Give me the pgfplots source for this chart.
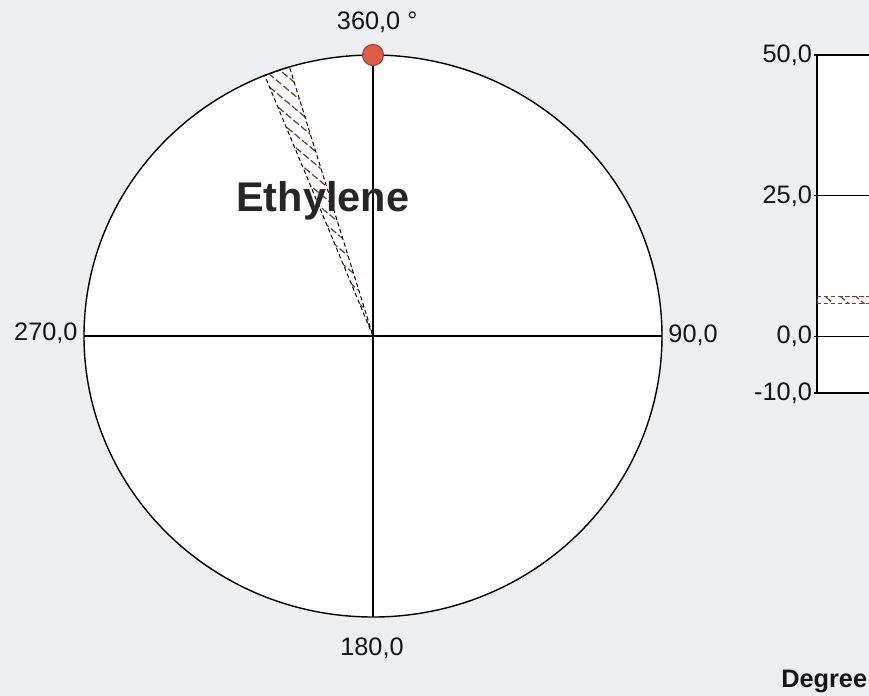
\documentclass[border=0pt]{standalone}
\usepackage{pgfplots}
\pgfplotsset{compat=1.18}
\usepackage{pgfplotstable}
\usepgfplotslibrary{polar}
\usetikzlibrary{patterns.meta}
\usepackage{fontspec}
\setmainfont{Liberation Sans}
\definecolor{bg}{RGB}{238,239,241}
\definecolor{hatch}{RGB}{125,60,45}
\definecolor{mk}{RGB}{222,92,74}
\newcommand\lbl{\fontsize{18}{21}\selectfont}

% wedge: compass bearing (deg) and relative radius
\pgfplotstableread{
deg r
0 0
338.0 1
343.2 1
0 0
}\wedgedata
\pgfplotstableread{
deg r
0 1
}\markerdata

\begin{document}
\begin{tikzpicture}
\useasboundingbox (0,0) rectangle (217.25mm,-174mm);
\fill[bg] (0,0) rectangle (217.25mm,-174mm);
\begin{polaraxis}[
  at={(93.25mm,-84mm)}, anchor=center,
  scale only axis, width=144.5mm, height=140.5mm,
  xmin=0, xmax=360, ymin=0, ymax=1,
  xtick={0,90,180,270}, xticklabels={,,,},
  ytick=\empty,
  xmajorgrids, major grid style={black, line width=0.9pt},
  major tick length=0pt,
  axis line style={black, line width=1pt},
  axis background/.style={fill=white},
  clip=false,
]
\addplot[draw=black, densely dashed, line width=0.7pt,
  pattern={Lines[angle=-40,distance=7pt,line width=0.9pt]}, pattern color=hatch]
  table[x expr={mod(450-\thisrow{deg},360)}, y=r] \wedgedata;
\addplot[only marks, mark=*, mark size=7.5pt,
  mark options={fill=mk, draw=mk!65!black, line width=0.7pt}]
  table[x expr={mod(450-\thisrow{deg},360)}, y=r] \markerdata;
\node[text=mk!45!black, font=\fontsize{8}{8}\selectfont] at (axis cs:90,1) {H};
\end{polaraxis}

\begin{scope}
\clip (0,0) rectangle (217.25mm,-174mm);
\begin{axis}[
  at={(204.25mm,-13.75mm)}, anchor=north west,
  scale only axis, width=70mm, height=84.5mm,
  xmin=0, xmax=1, ymin=-10, ymax=50,
  xtick=\empty, ytick={-10,0,25,50},
  yticklabels={{-10,0},{0,0},{25,0},{50,0}},
  ytick pos=left,
  ymajorgrids, major grid style={black, line width=0.9pt},
  tick align=outside, major tick length=0.8mm,
  tick style={black, line width=0.9pt},
  yticklabel style={font=\lbl, text=black!92, inner xsep=0.4mm},
  axis line style={black, line width=1pt},
  axis background/.style={fill=white},
]
\addplot[draw=hatch, densely dashed, line width=0.7pt,
  pattern={Lines[angle=-40,distance=7pt,line width=0.9pt]}, pattern color=hatch]
  coordinates {(0,5.9) (1,5.9) (1,7.1) (0,7.1) (0,5.9)};
\end{axis}
\end{scope}

\node[anchor=west, font=\lbl, text=black!92] at (83mm,-5.5mm) {360,0 °};
\node[anchor=west, font=\lbl, text=black!92, inner sep=0.3mm] at (166.75mm,-83.75mm) {90,0};
\node[anchor=east, font=\lbl, text=black!92, inner sep=0.3mm] at (19.75mm,-83.25mm) {270,0};
\node[font=\lbl, text=black!92] at (93mm,-162mm) {180,0};
\node[anchor=base west, font=\fontsize{29.5}{32}\selectfont\bfseries, text=black!85, inner sep=0pt] at (59mm,-52.75mm) {Ethylene};
\node[anchor=base west, font=\lbl\bfseries, text=black!92, inner sep=0pt] at (195.25mm,-171.75mm) {Degree};
\end{tikzpicture}
\end{document}
